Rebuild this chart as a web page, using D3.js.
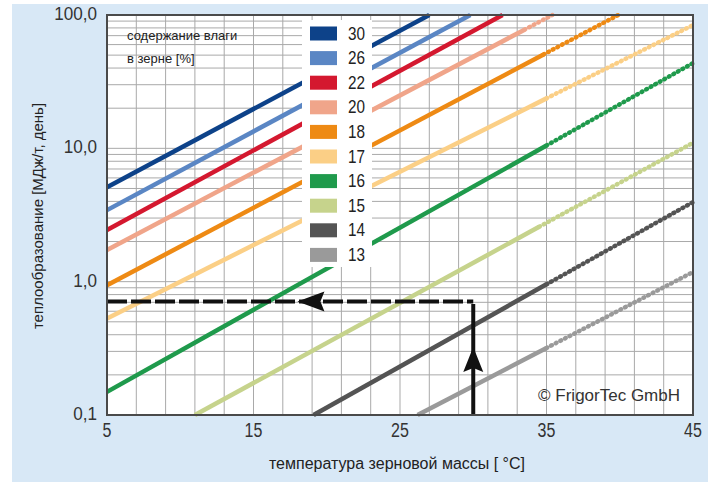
<!DOCTYPE html>
<html>
<head>
<meta charset="utf-8">
<script src="https://cdn.jsdelivr.net/npm/d3@7"></script>
<style>
body { margin: 0; background: #fff; }
text { font-family: "Liberation Sans", Arial, sans-serif; }
</style>
</head>
<body>
<div id="chart"></div>
<script>
// data
const moisture = [30, 26, 22, 20, 18, 17, 16, 15, 14, 13];
const lineColors = ["#0d4289", "#5a86c4", "#d4182f", "#f0a58a", "#ee8a14",
                    "#fbcf86", "#1f9a4c", "#c6d38c", "#545454", "#9a9a9a"];
const startT = [5, 5, 5, 5, 5, 5, 5, 11.0, 19.1, 26.2];
const startV = [5.1, 3.44, 2.44, 1.73, 0.94, 0.53, 0.149, 0.1, 0.1, 0.1];
const dotT = [27, 29.8, 32, 33.5, 34.8, 35, 35, 34.5, 35, 35];
const dotV = [100, 100, 100, 77.6, 50.6, 23.7, 10.5, 2.58, 0.955, 0.318];
const endT = [27, 29.8, 32, 35.4, 39.9, 45, 45, 45, 45, 45];
const endV = [100, 100, 100, 100, 100, 84, 43.6, 11, 3.95, 1.18];

// worked example: 30 °C -> 0.71 MJ/t per day
const exampleT = [5, 30];
const exampleV = [0.71, 0.68];

const xTicks = [5, 15, 25, 35, 45];
const yTicks = [0.1, 1, 10, 100];
const yTickLabels = ["0,1", "1,0", "10,0", "100,0"];

// formatting constants
const width = 716;
const height = 482;
const plot = {left: 107, right: 693, top: 15, bottom: 415};

const svg = d3.select("#chart")
    .append("svg")
        .attr("width", width)
        .attr("height", height);

// background
svg.append("rect")
    .attr("x", 12).attr("y", 4)
    .attr("width", 696).attr("height", 478)
    .attr("fill", "#d8e8f6");

svg.append("rect")
    .attr("x", plot.left).attr("y", plot.top)
    .attr("width", plot.right - plot.left).attr("height", plot.bottom - plot.top)
    .attr("fill", "#fff");

const x = d3.scaleLinear()
    .domain([5, 45])
    .range([plot.left, plot.right]);

const y = d3.scaleLog()
    .domain([0.1, 100])
    .range([plot.bottom, plot.top]);

// grid
const grid = svg.append("g").attr("stroke", "#a9a9a9").attr("stroke-width", 1);
grid.selectAll(".vg")
    .data(d3.range(7, 45, 2))
    .join("line")
        .attr("x1", d => x(d)).attr("x2", d => x(d))
        .attr("y1", plot.top).attr("y2", plot.bottom);
grid.selectAll(".hg")
    .data(y.ticks().filter(d => d > 0.1 && d < 100))
    .join("line")
        .attr("x1", plot.left).attr("x2", plot.right)
        .attr("y1", d => y(d)).attr("y2", d => y(d));

// legend title
svg.append("text")
    .attr("x", 127).attr("y", 40)
    .attr("font-size", 13).attr("fill", "#222")
    .text("содержание влаги");
svg.append("text")
    .attr("x", 127).attr("y", 63)
    .attr("font-size", 13).attr("fill", "#222")
    .text("в зерне [%]");

// moisture lines
const lines = svg.append("g").attr("fill", "none").attr("stroke-width", 4.5);
moisture.forEach((m, i) => {
    lines.append("line")
        .attr("x1", x(startT[i])).attr("y1", y(startV[i]))
        .attr("x2", x(dotT[i])).attr("y2", y(dotV[i]))
        .attr("stroke", lineColors[i]);
    if (endT[i] > dotT[i]) {
        lines.append("line")
            .attr("x1", x(dotT[i])).attr("y1", y(dotV[i]))
            .attr("x2", x(endT[i])).attr("y2", y(endV[i]))
            .attr("stroke", lineColors[i])
            .attr("stroke-linecap", "round")
            .attr("stroke-dasharray", "0.8,4.4");
    }
});

// legend box
svg.append("rect")
    .attr("x", 302).attr("y", 20)
    .attr("width", 70).attr("height", 247)
    .attr("fill", "#fff");

const legend = svg.append("g");
moisture.forEach((m, i) => {
    const cy = 33.5 + i * 24.6;
    legend.append("rect")
        .attr("x", 310).attr("y", cy - 7)
        .attr("width", 27).attr("height", 14)
        .attr("fill", lineColors[i]);
    legend.append("text")
        .attr("transform", `translate(348, ${cy + 6}) scale(0.85, 1)`)
        .attr("font-size", 18).attr("fill", "#222")
        .text(m);
});

// worked example
svg.append("line")
    .attr("x1", x(exampleT[0])).attr("y1", y(exampleV[0]))
    .attr("x2", x(exampleT[1])).attr("y2", y(exampleV[0]))
    .attr("stroke", "#111").attr("stroke-width", 4)
    .attr("stroke-dasharray", "20,4");
svg.append("line")
    .attr("x1", x(exampleT[1])).attr("y1", y(0.1))
    .attr("x2", x(exampleT[1])).attr("y2", y(exampleV[1]))
    .attr("stroke", "#111").attr("stroke-width", 4);

// arrowheads
const ax = x(18), ay = y(exampleV[0]);
svg.append("path")
    .attr("d", `M${ax},${ay} L${ax + 27},${ay - 10} L${ax + 23},${ay} L${ax + 27},${ay + 10} Z`)
    .attr("fill", "#111");
const bx = x(exampleT[1]), by = y(0.323);
svg.append("path")
    .attr("d", `M${bx},${by} L${bx + 10},${by + 25} L${bx},${by + 21} L${bx - 10},${by + 25} Z`)
    .attr("fill", "#111");

// frame
svg.append("rect")
    .attr("x", plot.left).attr("y", plot.top)
    .attr("width", plot.right - plot.left).attr("height", plot.bottom - plot.top)
    .attr("fill", "none").attr("stroke", "#4a4a4a").attr("stroke-width", 2);

// axes labels
svg.append("g")
    .selectAll("text")
    .data(xTicks)
    .join("text")
        .attr("transform", d => `translate(${x(d)}, 437) scale(0.8, 1)`)
        .attr("text-anchor", "middle")
        .attr("font-size", 20).attr("fill", "#333")
        .text(d => d);

svg.append("g")
    .selectAll("text")
    .data(yTicks)
    .join("text")
        .attr("transform", d => `translate(97, ${y(d) + 5}) scale(0.9, 1)`)
        .attr("text-anchor", "end")
        .attr("font-size", 19).attr("fill", "#333")
        .text((d, i) => yTickLabels[i]);

svg.append("text")
    .attr("x", 397).attr("y", 469)
    .attr("text-anchor", "middle")
    .attr("font-size", 16).attr("fill", "#222")
    .text("температура зерновой массы [ °C]");

svg.append("text")
    .attr("transform", "translate(43, 216) rotate(-90)")
    .attr("text-anchor", "middle")
    .attr("font-size", 15).attr("fill", "#222")
    .text("теплообразование [МДж/т, день]");

svg.append("text")
    .attr("x", 680).attr("y", 401)
    .attr("text-anchor", "end")
    .attr("font-size", 17).attr("fill", "#333")
    .text("© FrigorTec GmbH");
</script>
</body>
</html>
